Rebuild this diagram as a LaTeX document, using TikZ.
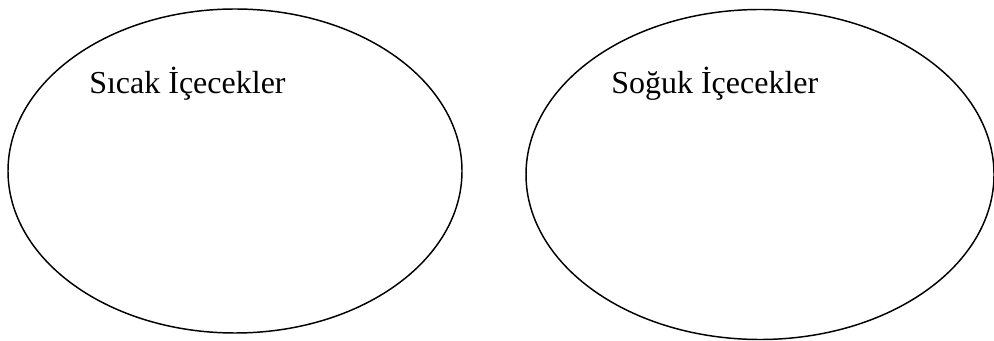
\documentclass[tikz,border=0pt]{standalone}
\usepackage{fontspec}
\setmainfont{Liberation Serif}
\usetikzlibrary{shapes.geometric}
\begin{document}
\begin{tikzpicture}[x=0.75pt,y=-0.75pt,
  oval/.style={draw=black,line width=1.1pt,ellipse,inner sep=0pt},
  lbl/.style={anchor=base west,inner sep=0pt,font=\fontsize{24}{28}\selectfont}]
\useasboundingbox (0,0) rectangle (994,341);
\node[oval,minimum width=454*0.75pt,minimum height=324*0.75pt] (hot) at (235,171) {};
\node[oval,minimum width=468*0.75pt,minimum height=330*0.75pt] (cold) at (760,174.5) {};
\node[lbl] (hott) at (89,94) {Sıcak İçecekler};
\node[lbl] (coldt) at (611,94) {Soğuk İçecekler};
\end{tikzpicture}
\end{document}
